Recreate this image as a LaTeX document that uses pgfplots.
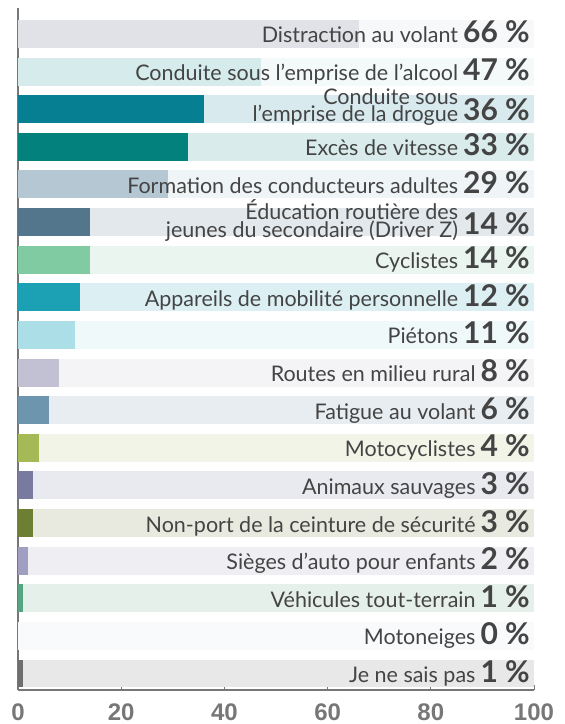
\documentclass[border=0pt]{standalone}
\usepackage{pgfplots}
\pgfplotsset{compat=1.18}
\usepackage{fontspec}
\setmainfont{Lato}
\newfontfamily\tickfont{Liberation Sans}
\definecolor{txt}{HTML}{444444}
\definecolor{axc}{HTML}{777777}
\definecolor{fa}{HTML}{E1E2E7}\definecolor{ba}{HTML}{F6F8FA}
\definecolor{fb}{HTML}{D5EBEC}\definecolor{bb}{HTML}{F4F9FA}
\definecolor{fc}{HTML}{057F91}\definecolor{bc}{HTML}{D8EAEE}
\definecolor{fd}{HTML}{03827D}\definecolor{bd}{HTML}{D9ECEB}
\definecolor{fe}{HTML}{B5C7D3}\definecolor{be}{HTML}{EFF4F7}
\definecolor{ff}{HTML}{53768C}\definecolor{bf}{HTML}{E3E8EC}
\definecolor{fg}{HTML}{80CBA2}\definecolor{bg}{HTML}{EAF5EF}
\definecolor{fh}{HTML}{1CA1B4}\definecolor{bh}{HTML}{DCF0F3}
\definecolor{fi}{HTML}{ABDEE7}\definecolor{bi}{HTML}{F0F9FA}
\definecolor{fj}{HTML}{C2C1D4}\definecolor{bj}{HTML}{F4F4F7}
\definecolor{fk}{HTML}{6D95AE}\definecolor{bk}{HTML}{E8EDF1}
\definecolor{fl}{HTML}{A6B957}\definecolor{bl}{HTML}{F1F4E6}
\definecolor{fm}{HTML}{797A9F}\definecolor{bm}{HTML}{E9E9F0}
\definecolor{fn}{HTML}{6D7F32}\definecolor{bn}{HTML}{E8E9DF}
\definecolor{fo}{HTML}{A09FC2}\definecolor{bo}{HTML}{EFEFF3}
\definecolor{fp}{HTML}{55A583}\definecolor{bp}{HTML}{E5F0EA}
\definecolor{fq}{HTML}{FFFFFF}\definecolor{bq}{HTML}{F9FAFC}
\definecolor{fr}{HTML}{6E6E6E}\definecolor{br}{HTML}{E8E8E8}
\pgfplotsset{hb/.style={xbar, bar width=0.744, bar shift=0pt, draw=none, fill=#1}}
\newcommand\lab[4]{\node[anchor=base east, xshift=-4bp, yshift=-#2bp, text=txt, inner sep=0pt] at (axis cs:100,#1) {\fontsize{21.5bp}{19bp}\selectfont #3\hspace{5bp}{\fontsize{30bp}{30bp}\selectfont\bfseries #4~\%}};}
\newcommand\two[3]{\raisebox{#1bp}{#3\makebox[0pt][r]{\raisebox{17.5bp}{#2}}}}
\begin{document}
\begin{tikzpicture}
\path[use as bounding box] (-18bp,-34bp) rectangle (547bp,690bp);
\begin{axis}[
  at={(0,0)}, anchor=south west,
  scale only axis, width=516bp, height=682bp,
  xmin=0, xmax=100, ymin=-0.691, ymax=17.439, y dir=reverse,
  axis x line=bottom, axis y line=left, axis line style={-, draw=axc, line width=1.3bp},
  ytick=\empty, xtick={0,20,40,60,80,100},
  tick align=inside, major tick length=5bp, tick style={draw=axc, line width=1bp},
  /pgf/number format/assume math mode=true,
  xticklabel style={font=\tickfont\bfseries\fontsize{24bp}{24bp}\selectfont, text=axc, inner sep=1bp, yshift=-12.5bp},
  clip=false,
]
\addplot[hb=ba] coordinates {(100,0)};
\addplot[hb=fa] coordinates {(66,0)};
\addplot[hb=bb] coordinates {(100,1)};
\addplot[hb=fb] coordinates {(47,1)};
\addplot[hb=bc] coordinates {(100,2)};
\addplot[hb=fc] coordinates {(36,2)};
\addplot[hb=bd] coordinates {(100,3)};
\addplot[hb=fd] coordinates {(33,3)};
\addplot[hb=be] coordinates {(100,4)};
\addplot[hb=fe] coordinates {(29,4)};
\addplot[hb=bf] coordinates {(100,5)};
\addplot[hb=ff] coordinates {(14,5)};
\addplot[hb=bg] coordinates {(100,6)};
\addplot[hb=fg] coordinates {(14,6)};
\addplot[hb=bh] coordinates {(100,7)};
\addplot[hb=fh] coordinates {(12,7)};
\addplot[hb=bi] coordinates {(100,8)};
\addplot[hb=fi] coordinates {(11,8)};
\addplot[hb=bj] coordinates {(100,9)};
\addplot[hb=fj] coordinates {(8,9)};
\addplot[hb=bk] coordinates {(100,10)};
\addplot[hb=fk] coordinates {(6,10)};
\addplot[hb=bl] coordinates {(100,11)};
\addplot[hb=fl] coordinates {(4,11)};
\addplot[hb=bm] coordinates {(100,12)};
\addplot[hb=fm] coordinates {(3,12)};
\addplot[hb=bn] coordinates {(100,13)};
\addplot[hb=fn] coordinates {(3,13)};
\addplot[hb=bo] coordinates {(100,14)};
\addplot[hb=fo] coordinates {(2,14)};
\addplot[hb=bp] coordinates {(100,15)};
\addplot[hb=fp] coordinates {(1,15)};
\addplot[hb=bq] coordinates {(100,16)};
\addplot[hb=br] coordinates {(100,17)};
\addplot[hb=fr] coordinates {(1,17)};
\lab{0}{9}{Distraction au volant}{66}
\lab{1}{9}{Conduite sous l’emprise de l’alcool}{47}
\lab{2}{11}{\two{-1.5}{Conduite sous}{l’emprise de la drogue}}{36}
\lab{3}{9}{Excès de vitesse}{33}
\lab{4}{9}{Formation des conducteurs adultes}{29}
\lab{5}{12}{\two{-3}{Éducation routière des}{jeunes du secondaire (Driver Z)}}{14}
\lab{6}{9}{Cyclistes}{14}
\lab{7}{9}{Appareils de mobilité personnelle}{12}
\lab{8}{9}{Piétons}{11}
\lab{9}{9}{Routes en milieu rural}{8}
\lab{10}{9}{Fatigue au volant}{6}
\lab{11}{9}{Motocyclistes}{4}
\lab{12}{9}{Animaux sauvages}{3}
\lab{13}{9}{Non-port de la ceinture de sécurité}{3}
\lab{14}{9}{Sièges d’auto pour enfants}{2}
\lab{15}{9}{Véhicules tout-terrain}{1}
\lab{16}{9}{Motoneiges}{0}
\lab{17}{9}{Je ne sais pas}{1}
\end{axis}
\end{tikzpicture}
\end{document}
